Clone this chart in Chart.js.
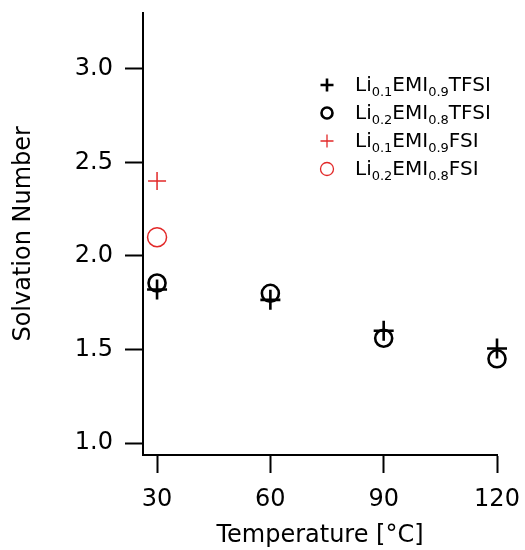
<!DOCTYPE html>
<html>
<head>
<meta charset="utf-8">
<script src="https://cdn.jsdelivr.net/npm/chart.js@4/dist/chart.umd.min.js"></script>
<style>
  html, body { margin: 0; padding: 0; background: #fff; }
  #wrap { width: 525px; height: 550px; position: relative; }
</style>
</head>
<body>
<div id="wrap"><canvas id="c" width="525" height="550"></canvas></div>
<script>
// ---- data ----
const temperatures = [30, 60, 90, 120];
const li01TFSI = [1.82, 1.765, 1.60, 1.505];
const li02TFSI = [1.855, 1.80, 1.56, 1.45];
const fsiTemperatures = [30];
const li01FSI = [2.40];
const li02FSI = [2.10];
const seriesLabels = ["Li_{0.1}EMI_{0.9}TFSI", "Li_{0.2}EMI_{0.8}TFSI", "Li_{0.1}EMI_{0.9}FSI", "Li_{0.2}EMI_{0.8}FSI"];
const xTicks = [30, 60, 90, 120];
const yTicks = [1.0, 1.5, 2.0, 2.5, 3.0];

const RED = 'rgb(226,40,40)';
const FONT = "'DejaVu Sans', sans-serif";

function pts(xs, ys) { return xs.map((x, i) => ({ x: x, y: ys[i] })); }

const legendPlugin = {
  id: 'subLegend',
  afterDraw(chart, args, opts) {
    const ctx = chart.ctx;
    ctx.save();
    chart.data.datasets.forEach((ds, i) => {
      const cy = opts.y0 + i * opts.pitch;
      const r = opts.markerRadius[i];
      ctx.strokeStyle = ds.borderColor;
      ctx.lineWidth = opts.markerWidth[i];
      ctx.beginPath();
      if (ds.pointStyle === 'cross') {
        ctx.moveTo(opts.markerX - r, cy); ctx.lineTo(opts.markerX + r, cy);
        ctx.moveTo(opts.markerX, cy - r); ctx.lineTo(opts.markerX, cy + r);
      } else {
        ctx.arc(opts.markerX, cy, r, 0, Math.PI * 2);
      }
      ctx.stroke();
      // text with subscripts
      const parts = ds.label.split(/(_\{[^}]*\})/).filter(s => s.length);
      let x = opts.textX;
      const base = cy + opts.baselineOffset;
      ctx.fillStyle = '#000';
      ctx.textBaseline = 'alphabetic';
      ctx.textAlign = 'left';
      parts.forEach(p => {
        if (p.startsWith('_{')) {
          const t = p.slice(2, -1);
          ctx.font = opts.subSize + 'px ' + FONT;
          ctx.fillText(t, x, base + opts.subShift);
          x += ctx.measureText(t).width;
        } else {
          ctx.font = opts.mainSize + 'px ' + FONT;
          ctx.fillText(p, x, base);
          x += ctx.measureText(p).width;
        }
      });
    });
    ctx.restore();
  }
};

new Chart(document.getElementById('c'), {
  type: 'scatter',
  data: {
    datasets: [
      { label: seriesLabels[0], data: pts(temperatures, li01TFSI), pointStyle: 'cross', pointRadius: 10, pointBorderWidth: 2.6, borderColor: '#000', backgroundColor: 'transparent', clip: false },
      { label: seriesLabels[1], data: pts(temperatures, li02TFSI), pointStyle: 'circle', pointRadius: 8.5, pointBorderWidth: 2.6, borderColor: '#000', backgroundColor: 'transparent', clip: false },
      { label: seriesLabels[2], data: pts(fsiTemperatures, li01FSI), pointStyle: 'cross', pointRadius: 9, pointBorderWidth: 1.5, borderColor: RED, backgroundColor: 'transparent', clip: false },
      { label: seriesLabels[3], data: pts(fsiTemperatures, li02FSI), pointStyle: 'circle', pointRadius: 9.5, pointBorderWidth: 1.5, borderColor: RED, backgroundColor: 'transparent', clip: false }
    ]
  },
  options: {
    responsive: false,
    animation: false,
    events: [],
    layout: { padding: { left: 0, right: 28, top: 12, bottom: 0 } },
    plugins: {
      legend: { display: false },
      tooltip: { enabled: false },
      subLegend: {
        markerX: 327, textX: 355, y0: 85, pitch: 28,
        markerRadius: [6.5, 5.5, 6.5, 6.5], markerWidth: [2.6, 2.6, 1.3, 1.3],
        mainSize: 20, subSize: 13, subShift: 5, baselineOffset: 6
      }
    },
    scales: {
      x: {
        type: 'linear',
        min: 26.28, max: 120,
        afterBuildTicks: s => { s.ticks = xTicks.map(v => ({ value: v })); },
        afterFit: s => { s.height = 95; s.paddingLeft = 0; s.paddingRight = 0; },
        border: { display: true, color: '#000', width: 2 },
        grid: { drawOnChartArea: false, drawTicks: true, tickLength: 18, tickColor: '#000', tickWidth: 2 },
        ticks: { color: '#000', font: { family: FONT, size: 24 }, padding: 12, maxRotation: 0, callback: v => String(v) },
        title: { display: true, text: 'Temperature [°C]', color: '#000', font: { family: FONT, size: 24 }, padding: { top: 0, bottom: 0 } }
      },
      y: {
        type: 'linear',
        min: 0.936, max: 3.30,
        afterBuildTicks: s => { s.ticks = yTicks.map(v => ({ value: v })); },
        afterFit: s => { s.width = 143; s.paddingTop = 0; s.paddingBottom = 0; },
        border: { display: true, color: '#000', width: 2 },
        grid: { drawOnChartArea: false, drawTicks: true, tickLength: 18, tickColor: '#000', tickWidth: 2 },
        ticks: { color: '#000', font: { family: FONT, size: 24 }, padding: 12, callback: v => v.toFixed(1) },
        title: { display: true, text: 'Solvation Number', color: '#000', font: { family: FONT, size: 24 }, padding: { top: 9, bottom: 0 } }
      }
    }
  },
  plugins: [legendPlugin]
});
</script>
</body>
</html>
